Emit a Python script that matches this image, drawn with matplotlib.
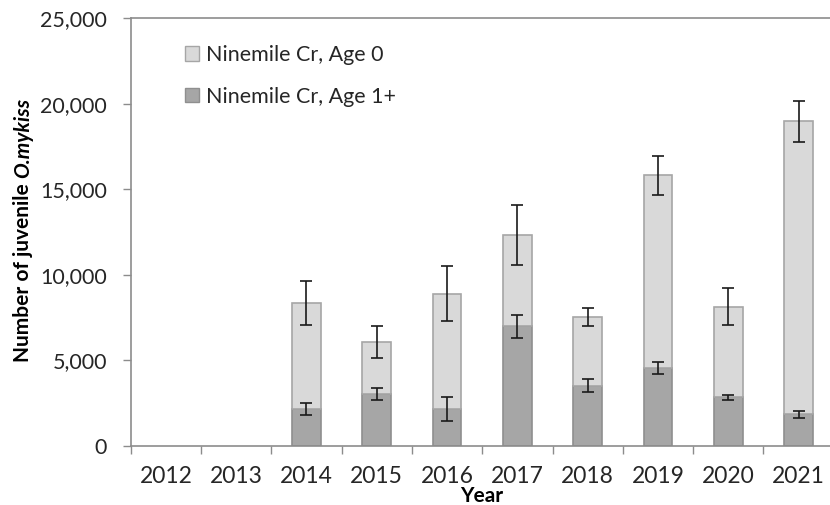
import numpy as np
import matplotlib
matplotlib.use("Agg")
import matplotlib.pyplot as plt
from matplotlib.patches import Patch

# Dados
anos = ['2012', '2013', '2014', '2015', '2016', '2017', '2018', '2019', '2020', '2021']
idade_1 = [np.nan, np.nan, 2160, 3040, 2160, 6990, 3520, 4540, 2840, 1850]
idade_0 = [np.nan, np.nan, 6210, 3020, 6740, 5340, 4020, 11270, 5300, 17110]
erro_1 = [np.nan, np.nan, 330, 370, 680, 670, 370, 360, 155, 195]
erro_0 = [np.nan, np.nan, 1275, 945, 1615, 1745, 505, 1150, 1070, 1180]

plt.rcParams['font.family'] = ['Lato', 'DejaVu Sans']

cor_texto = '#262626'
cor_eixo = '#8c8c8c'

fig = plt.figure(figsize=(8.3, 5.05), dpi=100)
ax = fig.add_axes([0.1575, 0.1168, 0.847, 0.8475])

x = np.arange(len(anos))
largura = 0.41
total = np.array(idade_1) + np.array(idade_0)

ax.bar(x, idade_1, largura, color='#a6a6a6', edgecolor='#8f8f8f', linewidth=1.2, zorder=2)
ax.bar(x, idade_0, largura, bottom=idade_1, color='#d9d9d9', edgecolor='#a6a6a6', linewidth=1.2, zorder=2)

ax.errorbar(x, idade_1, yerr=erro_1, fmt='none', ecolor='#1a1a1a', elinewidth=1.2, capsize=4.3, capthick=1.2, zorder=3)
ax.errorbar(x, total, yerr=erro_0, fmt='none', ecolor='#1a1a1a', elinewidth=1.2, capsize=4.3, capthick=1.2, zorder=3)

ax.set_xlim(-0.5, len(anos) - 0.5)
ax.set_ylim(0, 25000)
ax.set_yticks(np.arange(0, 25001, 5000))
ax.set_yticklabels([f'{v:,}' for v in range(0, 25001, 5000)])
ax.set_xticks(x)
ax.set_xticklabels(anos)
ax.set_xticks(np.arange(-0.5, len(anos)), minor=True)

ax.tick_params(axis='x', which='major', length=0, pad=14.5, labelsize=16.5, colors=cor_texto)
ax.tick_params(axis='x', which='minor', length=6, width=1, color=cor_eixo, direction='out')
ax.tick_params(axis='y', length=6, width=1, color=cor_eixo, direction='out', pad=11,
               labelsize=15.5, labelcolor=cor_texto)

ax.spines['right'].set_visible(False)
for lado in ['left', 'bottom', 'top']:
    ax.spines[lado].set_color(cor_eixo)
    ax.spines[lado].set_linewidth(1.2)

# Rótulo do eixo y em duas partes (negrito + negrito itálico)
y_base = 1 - 362 / 505
t1 = fig.text(23 / 830, y_base, 'Number of juvenile ', rotation=90, ha='center', va='bottom',
              fontsize=15, fontweight='bold', color='black')
fig.canvas.draw()
altura = t1.get_window_extent().height / fig.bbox.height
fig.text(23 / 830, y_base + altura, 'O.mykiss', rotation=90, ha='center', va='bottom',
         fontsize=15, fontweight='bold', fontstyle='italic', color='black')

fig.text(482 / 830, 1 - 496 / 505, 'Year', ha='center', va='center',
         fontsize=15, fontweight='bold', color='black')

handles = [Patch(facecolor='#d9d9d9', edgecolor='#a6a6a6', label='Ninemile Cr, Age 0'),
           Patch(facecolor='#a6a6a6', edgecolor='#8f8f8f', label='Ninemile Cr, Age 1+')]
ax.legend(handles=handles, loc='upper left', bbox_to_anchor=(0.05, 0.982), frameon=False,
          fontsize=15.5, handlelength=0.65, handleheight=0.65, handletextpad=0.3,
          labelspacing=1.0, labelcolor=cor_texto)

plt.savefig('out.png', dpi=100)
